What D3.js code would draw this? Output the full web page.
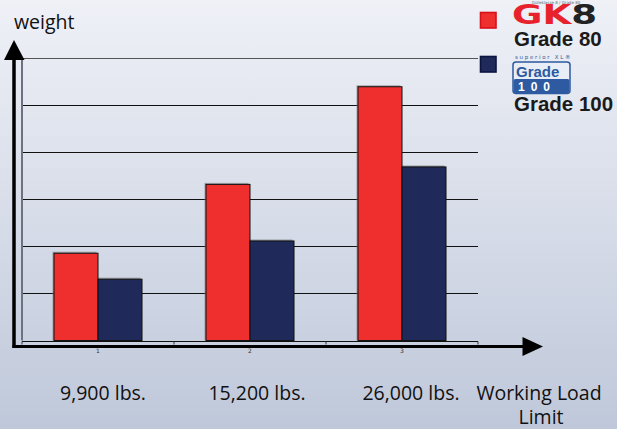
<!DOCTYPE html>
<html>
<head>
<meta charset="utf-8">
<script src="https://cdn.jsdelivr.net/npm/d3@7"></script>
<style>
  body { margin: 0; padding: 0; overflow: hidden; }
  svg { display: block; }
</style>
</head>
<body>
<div id="chart"></div>
<script>
// chart data
var categories = ["1", "2", "3"];
var series = ["Grade 80", "Grade 100"];
var grade80 = [1.85, 3.31, 5.38];
var grade100 = [1.30, 2.11, 3.68];
var loadLabels = ["9,900 lbs.", "15,200 lbs.", "26,000 lbs."];
var yTicks = [0, 1, 2, 3, 4, 5, 6];

var colors = { "Grade 80": "#ef2f2e", "Grade 100": "#1f295a" };

var W = 617, H = 429;
var svg = d3.select("#chart")
    .append("svg")
    .attr("width", W)
    .attr("height", H);

// background gradient
var defs = svg.append("defs");
var grad = defs.append("linearGradient")
    .attr("id", "bg")
    .attr("x1", 0).attr("y1", 0).attr("x2", 0).attr("y2", 1);
grad.append("stop").attr("offset", "0%").attr("stop-color", "#eff1f7");
grad.append("stop").attr("offset", "100%").attr("stop-color", "#bfc8da");
svg.append("rect").attr("width", W).attr("height", H).attr("fill", "url(#bg)");

// scales
var x = d3.scaleBand()
    .domain(categories)
    .range([22, 478])
    .paddingInner(0)
    .paddingOuter(0);

var xSub = d3.scaleBand()
    .domain(series)
    .range([0, x.bandwidth()])
    .paddingInner(0)
    .paddingOuter(0.727);

var y = d3.scaleLinear()
    .domain([0, 6])
    .range([340.5, 57.5]);

// gridlines
svg.append("g")
    .selectAll("line")
    .data(yTicks)
    .enter()
    .append("line")
    .attr("x1", 22)
    .attr("x2", 478)
    .attr("y1", function (d) { return Math.round(y(d)) + 0.5; })
    .attr("y2", function (d) { return Math.round(y(d)) + 0.5; })
    .attr("stroke", function (d) { return d == 6 ? "#555" : "#111"; })
    .attr("stroke-width", 1.2);

// left border of plot area
svg.append("line")
    .attr("x1", 22).attr("x2", 22)
    .attr("y1", y(6)).attr("y2", y(0))
    .attr("stroke", "#6d7280")
    .attr("stroke-width", 2);

// bottom axis with small ticks and tiny labels
var xAxis = svg.append("g")
    .attr("transform", "translate(0," + (Math.round(y(0)) + 0.5) + ")");
var tickPos = categories.map(function (c) { return x(c); }).concat([x.range()[1]]);
xAxis.selectAll("line.tick")
    .data(tickPos)
    .enter()
    .append("line")
    .attr("class", "tick")
    .attr("x1", function (d) { return d; })
    .attr("x2", function (d) { return d; })
    .attr("y1", 0).attr("y2", 3)
    .attr("stroke", "#333");
xAxis.selectAll("text")
    .data(categories)
    .enter()
    .append("text")
    .attr("x", function (d) { return x(d) + x.bandwidth() / 2; })
    .attr("y", 11)
    .attr("text-anchor", "middle")
    .style("font-family", "DejaVu Sans")
    .style("font-size", "6px")
    .attr("fill", "#333")
    .text(function (d) { return d; });

// bars
var rows = categories.map(function (c, i) {
    return { cat: c, values: [{ s: "Grade 80", v: grade80[i] }, { s: "Grade 100", v: grade100[i] }] };
});
var groups = svg.selectAll(".grp")
    .data(rows)
    .enter()
    .append("g")
    .attr("class", "grp")
    .attr("transform", function (d) { return "translate(" + x(d.cat) + ",0)"; });

// faint shadow on bars
groups.selectAll("rect.shadow")
    .data(function (d) { return d.values; })
    .enter()
    .append("rect")
    .attr("class", "shadow")
    .attr("x", function (d) { return xSub(d.s) - 1.5; })
    .attr("y", function (d) { return y(d.v) - 1.5; })
    .attr("width", xSub.bandwidth())
    .attr("height", function (d) { return y(0) - y(d.v) + 1.5; })
    .attr("fill", "#777")
    .attr("opacity", 0.6);

groups.selectAll("rect.bar")
    .data(function (d) { return d.values; })
    .enter()
    .append("rect")
    .attr("class", "bar")
    .attr("x", function (d) { return xSub(d.s); })
    .attr("y", function (d) { return y(d.v); })
    .attr("width", xSub.bandwidth())
    .attr("height", function (d) { return y(0) - y(d.v); })
    .attr("fill", function (d) { return colors[d.s]; })
    .attr("stroke", "#111")
    .attr("stroke-width", 1);

// big arrow axes
svg.append("line")
    .attr("x1", 14).attr("x2", 14)
    .attr("y1", 58).attr("y2", 348)
    .attr("stroke", "#000").attr("stroke-width", 3.5);
svg.append("path")
    .attr("d", "M14,40 L24.5,60 L4,60 Z")
    .attr("fill", "#000");
svg.append("line")
    .attr("x1", 12.5).attr("x2", 525)
    .attr("y1", 346.5).attr("y2", 346.5)
    .attr("stroke", "#000").attr("stroke-width", 3);
svg.append("path")
    .attr("d", "M543,346.5 L522.5,337 L522.5,356 Z")
    .attr("fill", "#000");

// axis titles
svg.append("text")
    .attr("x", 14).attr("y", 29)
    .style("font-family", "Open Sans")
    .style("font-size", "19.5px")
    .attr("fill", "#111")
    .text("weight");

var labelFont = function (sel) {
    sel.style("font-family", "Open Sans")
        .style("font-size", "19.5px")
        .attr("fill", "#111")
        .attr("text-anchor", "middle");
};
svg.selectAll(".load")
    .data(loadLabels)
    .enter()
    .append("text")
    .attr("class", "load")
    .attr("x", function (d, i) { return x(categories[i]) + x.bandwidth() / 2 + 5 + i * 2; })
    .attr("y", 400)
    .call(labelFont)
    .text(function (d) { return d; });
svg.append("text").attr("x", 539).attr("y", 400).call(labelFont).text("Working Load");
svg.append("text").attr("x", 541).attr("y", 424).call(labelFont).text("Limit");

// legend
var legendY = { "Grade 80": 12.5, "Grade 100": 56.5 };
svg.selectAll(".lg")
    .data(series)
    .enter()
    .append("rect")
    .attr("class", "lg")
    .attr("x", 480.5)
    .attr("y", function (d) { return legendY[d]; })
    .attr("width", 15.5)
    .attr("height", 15.5)
    .attr("fill", function (d) { return colors[d]; })
    .attr("stroke", function (d) { return d == "Grade 80" ? "#d8101a" : "#0d1440"; })
    .attr("stroke-width", 1.6);

// GK8 logo
svg.append("text")
    .attr("x", 556).attr("y", 3.5)
    .attr("text-anchor", "middle")
    .style("font-family", "DejaVu Sans")
    .style("font-size", "4px")
    .attr("fill", "#666")
    .text("Güteklasse 8 / Grade 80");
var gk = svg.append("text")
    .attr("x", 512).attr("y", 24)
    .style("font-family", "DejaVu Sans")
    .style("font-weight", "bold")
    .style("font-size", "26px")
    .attr("textLength", 85)
    .attr("lengthAdjust", "spacingAndGlyphs");
gk.append("tspan").attr("fill", "#e8222c").text("GK");
gk.append("tspan").attr("fill", "#222").text("8");

svg.append("text")
    .attr("x", 514).attr("y", 46)
    .style("font-family", "Liberation Sans")
    .style("font-weight", "bold")
    .style("font-size", "20.5px")
    .attr("fill", "#1a1a1a")
    .text("Grade 80");

// Grade 100 badge
svg.append("text")
    .attr("x", 515).attr("y", 58.5)
    .style("font-family", "DejaVu Sans")
    .style("font-size", "5.5px")
    .style("letter-spacing", "1.7px")
    .attr("fill", "#3b5a90")
    .text("superior XL®");
svg.append("rect")
    .attr("x", 513).attr("y", 62)
    .attr("width", 57).attr("height", 31.5)
    .attr("rx", 3)
    .attr("fill", "#e8edf6")
    .attr("stroke", "#2d5aa0")
    .attr("stroke-width", 1.5);
svg.append("rect")
    .attr("x", 513.5).attr("y", 79)
    .attr("width", 56).attr("height", 14)
    .attr("rx", 2)
    .attr("fill", "#2d5aa0");
svg.append("text")
    .attr("x", 516).attr("y", 76.5)
    .style("font-family", "Liberation Sans")
    .style("font-weight", "bold")
    .style("font-size", "15px")
    .attr("fill", "#2d5aa0")
    .text("Grade");
svg.append("text")
    .attr("x", 518).attr("y", 90.5)
    .style("font-family", "Liberation Sans")
    .style("font-weight", "bold")
    .style("font-size", "12px")
    .style("letter-spacing", "6px")
    .attr("fill", "#fff")
    .text("100");

svg.append("text")
    .attr("x", 514).attr("y", 111)
    .style("font-family", "Liberation Sans")
    .style("font-weight", "bold")
    .style("font-size", "20.5px")
    .attr("fill", "#1a1a1a")
    .text("Grade 100");
</script>
</body>
</html>
